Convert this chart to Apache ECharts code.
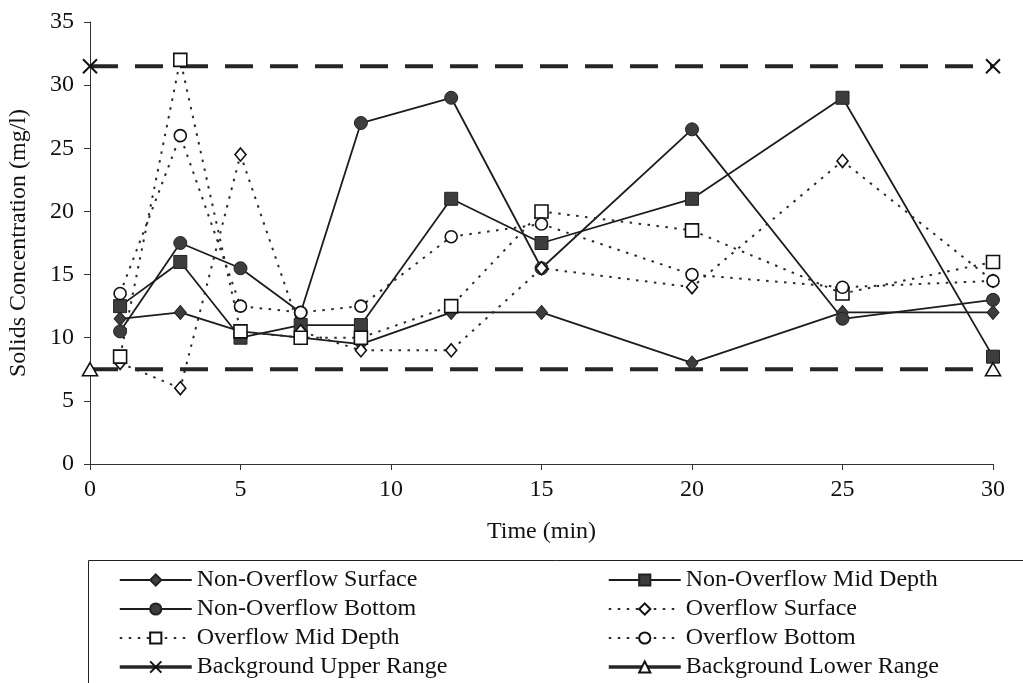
<!DOCTYPE html>
<html>
<head>
<meta charset="utf-8">
<title>Solids Concentration vs Time</title>
<script src="https://cdn.jsdelivr.net/npm/echarts@6/dist/echarts.min.js"></script>
<style>
  html, body { margin: 0; padding: 0; background: #fff; }
  #chart { width: 1023px; height: 683px; }
</style>
</head>
<body>
<div id="chart"></div>
<script>
// Sampling times (min)
const times = [1, 3, 5, 7, 9, 12, 15, 20, 25, 30];
// Solids concentration (mg/l) at each sampling time
const nonOverflowSurface = [11.5, 12, 10.5, 10, 9.5, 12, 12, 8, 12, 12];
const nonOverflowMid     = [12.5, 16, 10, 11, 11, 21, 17.5, 21, 29, 8.5];
const nonOverflowBottom  = [10.5, 17.5, 15.5, 12, 27, 29, 15.5, 26.5, 11.5, 13];
const overflowSurface    = [8, 6, 24.5, 10.5, 9, 9, 15.5, 14, 24, 14.5];
const overflowMid        = [8.5, 32, 10.5, 10, 10, 12.5, 20, 18.5, 13.5, 16];
const overflowBottom     = [13.5, 26, 12.5, 12, 12.5, 18, 19, 15, 14, 14.5];
// Background range, drawn across the whole time span
const bgTimes = [0, 30];
const bgUpper = [31.5, 31.5];
const bgLower = [7.5, 7.5];
// Axis ticks
const xTicks = { min: 0, max: 30, step: 5 };
const yTicks = { min: 0, max: 35, step: 5 };

const pair = (xs, ys) => xs.map((x, i) => [x, ys[i]]);

const FONT = '"Liberation Serif", "DejaVu Serif", serif';
const FS = 24;
const INK = '#111';
const LINE = '#1c1c1c';
const FILL = '#3d3d3d';

const solid = { color: LINE, width: 1.8, type: 'solid' };
const dotted = { color: '#2a2a2a', width: 2, type: [2.5, 6.5], cap: 'butt' };
const dashed = { color: '#262626', width: 4, type: [28, 17], cap: 'butt' };

const filledMark = { color: FILL, borderColor: '#222', borderWidth: 1 };
const openMark = { color: '#fff', borderColor: '#111', borderWidth: 1.6 };

function lineSeries(name, xs, ys, symbol, size, lineStyle, itemStyle) {
  return {
    name, type: 'line', data: pair(xs, ys),
    symbol, symbolSize: size, showAllSymbol: true,
    lineStyle, itemStyle,
    emphasis: { disabled: true }, animation: false
  };
}

const series = [
  lineSeries('Non-Overflow Surface', times, nonOverflowSurface, 'diamond', [12, 14], solid, filledMark),
  lineSeries('Non-Overflow Mid Depth', times, nonOverflowMid, 'rect', 13, solid, filledMark),
  lineSeries('Non-Overflow Bottom', times, nonOverflowBottom, 'circle', 13, solid, filledMark),
  lineSeries('Overflow Surface', times, overflowSurface, 'diamond', [11, 13], dotted, openMark),
  lineSeries('Overflow Mid Depth', times, overflowMid, 'rect', 13, dotted, openMark),
  lineSeries('Overflow Bottom', times, overflowBottom, 'circle', 12, dotted, openMark),
  lineSeries('Background Upper Range', bgTimes, bgUpper, 'path://M0,0L10,10M10,0L0,10', 14, dashed,
    { color: '#111', borderColor: '#111', borderWidth: 2 }),
  lineSeries('Background Lower Range', bgTimes, bgLower, 'triangle', [15, 13], dashed,
    { color: '#fff', borderColor: '#111', borderWidth: 1.6 })
];

// Background entries show a heavy solid stroke in the key
const heavyKey = name => ({ name, lineStyle: { width: 3.5, type: 'solid', color: '#262626' } });

const legendText = { fontFamily: FONT, fontSize: FS, color: INK, lineHeight: 24 };
const legendBase = {
  orient: 'vertical', selectedMode: false, padding: 0,
  itemWidth: 72, itemHeight: 14, itemGap: 5,
  textStyle: legendText, top: 568, height: 140
};

const chart = echarts.init(document.getElementById('chart'), null, { renderer: 'canvas' });
chart.setOption({
  backgroundColor: '#fff',
  animation: false,
  textStyle: { fontFamily: FONT },
  grid: { left: 90, right: 30, top: 22, bottom: 219, containLabel: false, outerBoundsMode: 'none' },
  xAxis: {
    type: 'value', min: xTicks.min, max: xTicks.max, interval: xTicks.step,
    name: 'Time (min)', nameLocation: 'middle', nameGap: 56,
    nameTextStyle: { fontFamily: FONT, fontSize: FS, color: INK },
    axisLine: { lineStyle: { color: '#333', width: 1 } },
    axisTick: { show: true, inside: false, length: 6, lineStyle: { color: '#333' } },
    axisLabel: { fontFamily: FONT, fontSize: FS, color: INK, margin: 14 },
    splitLine: { show: false }
  },
  yAxis: {
    type: 'value', min: yTicks.min, max: yTicks.max, interval: yTicks.step,
    name: 'Solids Concentration (mg/l)', nameLocation: 'middle', nameGap: 59,
    nameTextStyle: { fontFamily: FONT, fontSize: FS, color: INK },
    axisLine: { show: true, lineStyle: { color: '#333', width: 1 } },
    axisTick: { show: true, inside: false, length: 6, lineStyle: { color: '#333' } },
    axisLabel: { fontFamily: FONT, fontSize: FS, color: INK, margin: 16 },
    splitLine: { show: false }
  },
  legend: [
    Object.assign({}, legendBase, {
      left: 118,
      data: ['Non-Overflow Surface', 'Non-Overflow Bottom', 'Overflow Mid Depth', heavyKey('Background Upper Range')]
    }),
    Object.assign({}, legendBase, {
      left: 607,
      data: ['Non-Overflow Mid Depth', 'Overflow Surface', 'Overflow Bottom', heavyKey('Background Lower Range')]
    })
  ],
  graphic: [{
    type: 'rect', silent: true,
    shape: { x: 88.5, y: 560.5, width: 960, height: 140 },
    style: { fill: 'none', stroke: '#222', lineWidth: 1 }
  }],
  series
});
</script>
</body>
</html>
